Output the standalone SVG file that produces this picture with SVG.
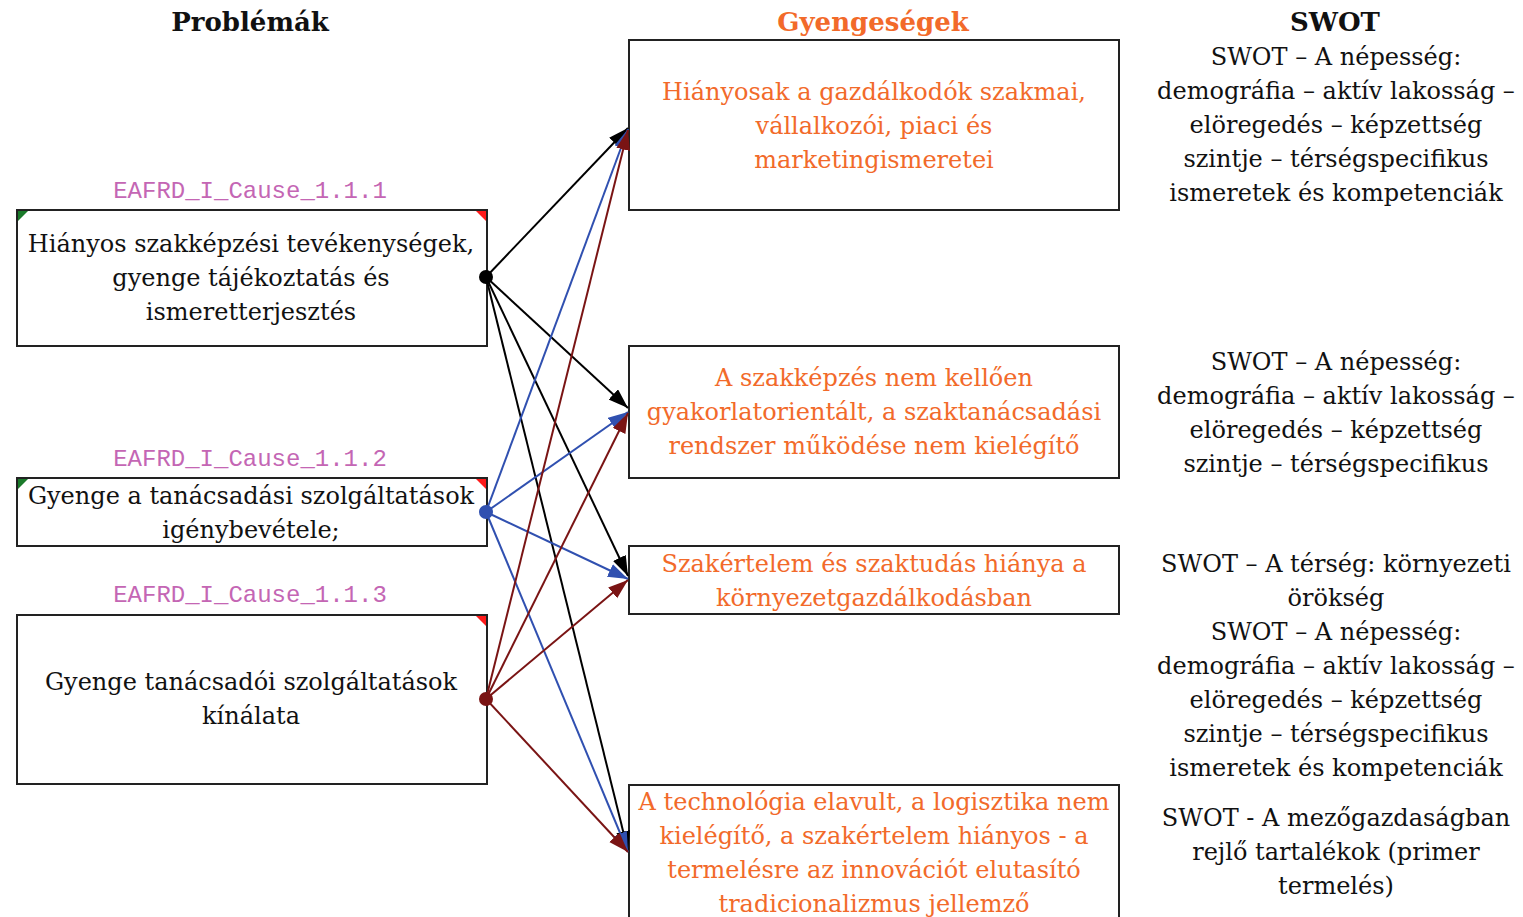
<svg xmlns="http://www.w3.org/2000/svg" width="1523" height="917" viewBox="0 0 1523 917">
<style>
.box{fill:#fff;stroke:#222;stroke-width:2}
.t{font-family:"DejaVu Serif","Liberation Serif",serif;font-size:24px;text-anchor:middle;fill:#111}
.h{font-family:"DejaVu Serif","Liberation Serif",serif;font-size:26px;font-weight:bold;text-anchor:middle;fill:#111}
.o{fill:#f26a2a}
.cap{font-family:"Liberation Mono","DejaVu Sans Mono",monospace;font-size:24px;text-anchor:middle;fill:#c466b4}
.k{stroke:#000;stroke-width:2;fill:none}
.b{stroke:#3050b0;stroke-width:2;fill:none}
.r{stroke:#7a1414;stroke-width:2;fill:none}
.gc{fill:#1a7a2a}
.rc{fill:#ff1a1a}
</style>
<defs>
<marker id="ak" markerUnits="userSpaceOnUse" markerWidth="22" markerHeight="16" refX="20" refY="7" orient="auto"><path d="M0,0 L20,7 L0,14 Z" fill="#000"/></marker>
<marker id="ab" markerUnits="userSpaceOnUse" markerWidth="22" markerHeight="16" refX="20" refY="7" orient="auto"><path d="M0,0 L20,7 L0,14 Z" fill="#3050b0"/></marker>
<marker id="ar" markerUnits="userSpaceOnUse" markerWidth="22" markerHeight="16" refX="20" refY="7" orient="auto"><path d="M0,0 L20,7 L0,14 Z" fill="#7a1414"/></marker>
</defs>
<rect width="1523" height="917" fill="#fff"/>
<g id="headers">
<text class="h" x="250" y="31">Problémák</text>
<text class="h o" x="873" y="31">Gyengeségek</text>
<text class="h" x="1335" y="31">SWOT</text>
</g>
<g id="p1">
<text class="cap" x="250" y="198">EAFRD_I_Cause_1.1.1</text>
<rect class="box" x="17" y="210" width="470" height="136"/>
<path class="gc" d="M18,211 L28,211 L18,221 Z"/>
<path class="rc" d="M486,211 L476,211 L486,221 Z"/>
<text class="t" x="251" y="252">Hiányos szakképzési tevékenységek,</text>
<text class="t" x="251" y="286">gyenge tájékoztatás és</text>
<text class="t" x="251" y="320">ismeretterjesztés</text>
</g>
<g id="p2">
<text class="cap" x="250" y="466">EAFRD_I_Cause_1.1.2</text>
<rect class="box" x="17" y="478" width="470" height="68"/>
<path class="gc" d="M18,479 L28,479 L18,489 Z"/>
<path class="rc" d="M486,479 L476,479 L486,489 Z"/>
<text class="t" x="251" y="504">Gyenge a tanácsadási szolgáltatások</text>
<text class="t" x="251" y="538">igénybevétele;</text>
</g>
<g id="p3">
<text class="cap" x="250" y="602">EAFRD_I_Cause_1.1.3</text>
<rect class="box" x="17" y="615" width="470" height="169"/>
<path class="rc" d="M486,616 L476,616 L486,626 Z"/>
<text class="t" x="251" y="690">Gyenge tanácsadói szolgáltatások</text>
<text class="t" x="251" y="724">kínálata</text>
</g>
<g id="w1">
<rect class="box" x="629" y="40" width="490" height="170"/>
<text class="t o" x="874" y="100">Hiányosak a gazdálkodók szakmai,</text>
<text class="t o" x="874" y="134">vállalkozói, piaci és</text>
<text class="t o" x="874" y="168">marketingismeretei</text>
</g>
<g id="w2">
<rect class="box" x="629" y="346" width="490" height="132"/>
<text class="t o" x="874" y="386">A szakképzés nem kellően</text>
<text class="t o" x="874" y="420">gyakorlatorientált, a szaktanácsadási</text>
<text class="t o" x="874" y="454">rendszer működése nem kielégítő</text>
</g>
<g id="w3">
<rect class="box" x="629" y="546" width="490" height="68"/>
<text class="t o" x="874" y="572">Szakértelem és szaktudás hiánya a</text>
<text class="t o" x="874" y="606">környezetgazdálkodásban</text>
</g>
<g id="w4">
<rect class="box" x="629" y="785" width="490" height="140"/>
<text class="t o" x="874" y="810">A technológia elavult, a logisztika nem</text>
<text class="t o" x="874" y="844">kielégítő, a szakértelem hiányos - a</text>
<text class="t o" x="874" y="878">termelésre az innovációt elutasító</text>
<text class="t o" x="874" y="912">tradicionalizmus jellemző</text>
</g>
<g id="s1">
<text class="t" x="1336" y="65">SWOT – A népesség:</text>
<text class="t" x="1336" y="99">demográfia – aktív lakosság –</text>
<text class="t" x="1336" y="133">elöregedés – képzettség</text>
<text class="t" x="1336" y="167">szintje – térségspecifikus</text>
<text class="t" x="1336" y="201">ismeretek és kompetenciák</text>
</g>
<g id="s2">
<text class="t" x="1336" y="370">SWOT – A népesség:</text>
<text class="t" x="1336" y="404">demográfia – aktív lakosság –</text>
<text class="t" x="1336" y="438">elöregedés – képzettség</text>
<text class="t" x="1336" y="472">szintje – térségspecifikus</text>
</g>
<g id="s3">
<text class="t" x="1336" y="572">SWOT – A térség: környezeti</text>
<text class="t" x="1336" y="606">örökség</text>
<text class="t" x="1336" y="640">SWOT – A népesség:</text>
<text class="t" x="1336" y="674">demográfia – aktív lakosság –</text>
<text class="t" x="1336" y="708">elöregedés – képzettség</text>
<text class="t" x="1336" y="742">szintje – térségspecifikus</text>
<text class="t" x="1336" y="776">ismeretek és kompetenciák</text>
</g>
<g id="s4">
<text class="t" x="1336" y="826">SWOT - A mezőgazdaságban</text>
<text class="t" x="1336" y="860">rejlő tartalékok (primer</text>
<text class="t" x="1336" y="894">termelés)</text>
</g>
<g id="connectors">
<line class="k" x1="486" y1="277" x2="628" y2="128" marker-end="url(#ak)"/>
<line class="k" x1="486" y1="277" x2="628" y2="408" marker-end="url(#ak)"/>
<line class="k" x1="486" y1="277" x2="628" y2="576" marker-end="url(#ak)"/>
<line class="k" x1="486" y1="277" x2="628" y2="851" marker-end="url(#ak)"/>
<line class="b" x1="486" y1="512" x2="628" y2="129" marker-end="url(#ab)"/>
<line class="b" x1="486" y1="512" x2="628" y2="412" marker-end="url(#ab)"/>
<line class="b" x1="486" y1="512" x2="628" y2="579" marker-end="url(#ab)"/>
<line class="b" x1="486" y1="512" x2="628" y2="852" marker-end="url(#ab)"/>
<line class="r" x1="486" y1="699" x2="628" y2="130" marker-end="url(#ar)"/>
<line class="r" x1="486" y1="699" x2="628" y2="413" marker-end="url(#ar)"/>
<line class="r" x1="486" y1="699" x2="628" y2="580" marker-end="url(#ar)"/>
<line class="r" x1="486" y1="699" x2="628" y2="852" marker-end="url(#ar)"/>
<circle cx="486" cy="277" r="7" fill="#000"/>
<circle cx="486" cy="512" r="7" fill="#3050b0"/>
<circle cx="486" cy="699" r="7" fill="#7a1414"/>
</g>
</svg>
